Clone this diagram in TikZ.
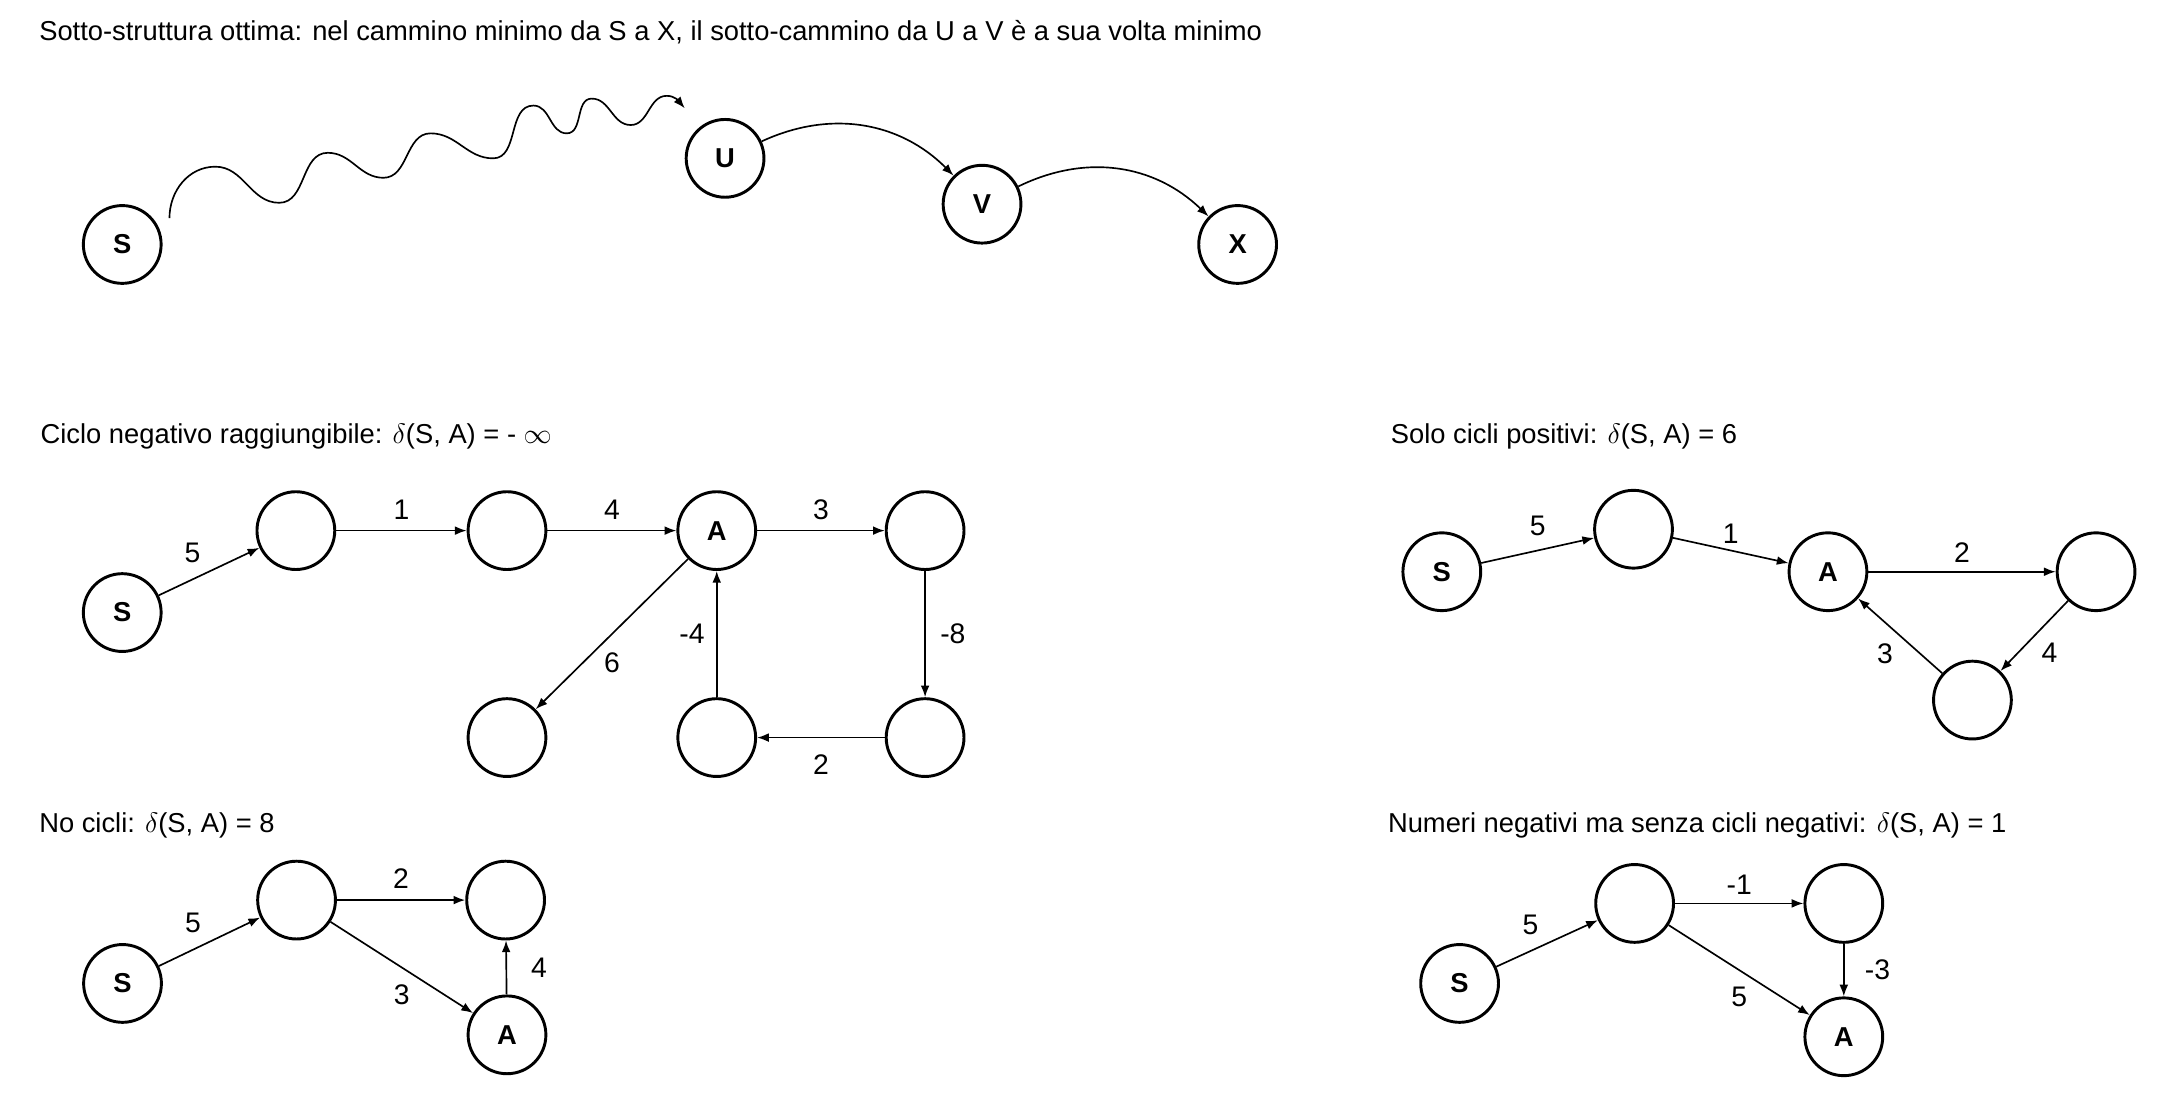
\documentclass[tikz,border=0pt]{standalone}
\usepackage{fontspec}
\setmainfont{Liberation Sans}
\usetikzlibrary{arrows.meta, positioning}

\begin{document}
\begin{tikzpicture}[x=0.25cm, y=-0.25cm,
            vertex/.style={circle, draw, line width=1.5pt, minimum size=1.4cm, inner sep=0pt, font=\fontsize{14}{16}\selectfont\bfseries},
            edge/.style={-{Latex[length=6pt, width=4.5pt]}, line width=0.85pt},
            weight/.style={font=\fontsize{14.5}{17}\selectfont},
            heading/.style={anchor=base west, inner sep=0pt, font=\fontsize{14}{16}\selectfont}
        ]

        \useasboundingbox (0,0) rectangle (156.8,79.8);

        % Headings
        \node[heading] (t0) at (2.8,2.95) {Sotto-struttura ottima: nel cammino minimo da S a X, il sotto-cammino da U a V è a sua volta minimo};
        \node[heading] (t1) at (2.9,31.9) {Ciclo negativo raggiungibile: $\delta$(S, A) = - $\infty$};
        \node[heading] (t2) at (100.1,31.9) {Solo cicli positivi: $\delta$(S, A) = 6};
        \node[heading] (t3) at (2.8,59.9) {No cicli: $\delta$(S, A) = 8};
        \node[heading] (t4) at (99.9,59.9) {Numeri negativi ma senza cicli negativi: $\delta$(S, A) = 1};

        % Sotto-struttura ottima
        \node[vertex] (S) at (8.8,17.6) {S};
        \node[vertex] (U) at (52.2,11.4) {U};
        \node[vertex] (V) at (70.7,14.7) {V};
        \node[vertex] (X) at (89.1,17.6) {X};
        \coordinate (w0) at (12.2,15.7);
        \coordinate (w1) at (49.3,7.8);

        \draw[edge] (w0) to[out=90, in=180] (15.5,12.0) to[out=0, in=180] (20.1,14.6)
            to[out=0, in=180] (23.6,11.0) to[out=0, in=180] (27.6,12.8)
            to[out=0, in=180] (31.0,9.6) to[out=0, in=180] (35.5,11.4)
            to[out=0, in=180] (38.4,7.6) to[out=0, in=180] (40.8,9.6)
            to[out=0, in=180] (42.6,7.1) to[out=0, in=180] (45.4,9.0)
            to[out=0, in=180] (48.0,6.9) to[out=0, in=130] (w1);
        \draw[edge] (U) to[bend left=35] (V);
        \draw[edge] (V) to[bend left=35] (X);

        % Ciclo negativo
        \node[vertex] (nS) at (8.8,44.1) {S};
        \node[vertex] (n1) at (21.3,38.2) {};
        \node[vertex] (n2) at (36.5,38.2) {};
        \node[vertex] (nA) at (51.6,38.2) {A};
        \node[vertex] (n3) at (66.6,38.2) {};
        \node[vertex] (n4) at (66.6,53.1) {};
        \node[vertex] (n5) at (51.6,53.1) {};
        \node[vertex] (n6) at (36.5,53.1) {};

        \draw[edge] (nS) -- node[weight, above left=1pt] {5} (n1);
        \draw[edge] (n1) -- node[weight, above=2pt] {1} (n2);
        \draw[edge] (n2) -- node[weight, above=2pt] {4} (nA);
        \draw[edge] (nA) -- node[weight, above=2pt] {3} (n3);
        \draw[edge] (n3) -- node[weight, right=4pt] {-8} (n4);
        \draw[edge] (n4) -- node[weight, below=5pt] {2} (n5);
        \draw[edge] (n5) -- node[weight, left=2.5pt] {-4} (nA);
        \draw[edge] (nA) -- node[weight, below=6pt] {6} (n6);

        % Solo cicli positivi
        \node[vertex] (pS) at (103.8,41.16) {S};
        \node[vertex] (p1) at (117.6,38.1) {};
        \node[vertex] (pA) at (131.6,41.16) {A};
        \node[vertex] (p2) at (150.9,41.16) {};
        \node[vertex] (p3) at (142.0,50.4) {};

        \draw[edge] (pS) -- node[weight, above=4pt] {5} (p1);
        \draw[edge] (p1) -- node[weight, above] {1} (pA);
        \draw[edge] (pA) -- node[weight, above=1pt] {2} (p2);
        \draw[edge] (p2) -- node[weight, below right] {4} (p3);
        \draw[edge] (p3) -- node[weight, below left] {3} (pA);

        % No cicli
        \node[vertex] (cS) at (8.82,70.8) {S};
        \node[vertex] (c1) at (21.35,64.8) {};
        \node[vertex] (c2) at (36.4,64.8) {};
        \node[vertex] (cA) at (36.5,74.5) {A};

        \draw[edge] (cS) -- node[weight, above left=1pt] {5} (c1);
        \draw[edge] (c1) -- node[weight, above=2pt] {2} (c2);
        \draw[edge] (c1) -- node[weight, below=5pt] {3} (cA);
        \draw[edge] (cA) -- node[weight, right=9pt] {4} (c2);

        % Numeri negativi
        \node[vertex] (mS) at (105.08,70.8) {S};
        \node[vertex] (m1) at (117.68,65.04) {};
        \node[vertex] (m2) at (132.74,65.04) {};
        \node[vertex] (mA) at (132.74,74.64) {A};

        \draw[edge] (mS) -- node[weight, above left=1pt] {5} (m1);
        \draw[edge] (m1) -- node[weight, above=1pt] {-1} (m2);
        \draw[edge] (m1) -- node[weight, below=5pt] {5} (mA);
        \draw[edge] (m2) -- node[weight, right=7pt] {-3} (mA);

    \end{tikzpicture}
\end{document}
